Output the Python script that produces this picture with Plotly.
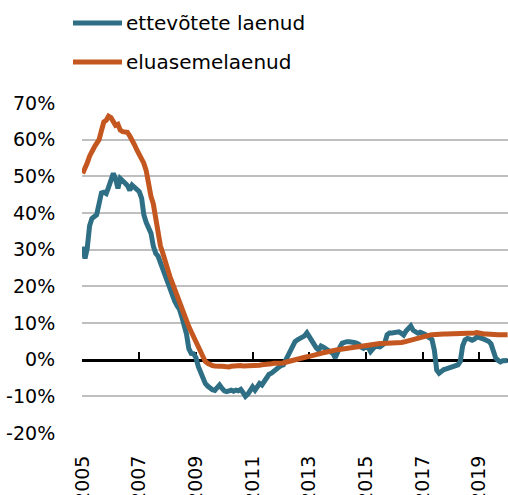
import pandas as pd
import plotly.graph_objects as go

# Monthly observations, Jan 2005 .. Jan 2020 (annual growth, %)
months = pd.date_range("2005-01-01", periods=181, freq="MS")

ettevotete = [
    # 2005
    30.8, 27.6, 30.3, 36.5, 38.5, 39.2, 39.5, 42.5, 45.5, 45.7, 45.3, 47.0,
    # 2006
    49.5, 50.8, 49.4, 46.7, 49.4, 48.5, 48.2, 47.5, 46.2, 47.6, 47.1, 46.3,
    # 2007
    45.8, 44.0, 39.5, 37.4, 36.2, 34.5, 31.0, 29.0, 28.2, 26.5, 24.2, 22.2,
    # 2008
    20.5, 19.2, 17.5, 16.0, 14.8, 13.8, 11.8, 9.2, 7.0, 3.0, 1.7, 1.6,
    # 2009
    0.5, -1.9, -3.5, -5.3, -6.5, -7.2, -7.8, -8.2, -8.4, -7.8, -6.9, -7.8,
    # 2010
    -8.5, -8.7, -8.4, -8.3, -8.6, -8.3, -8.5, -8.1, -9.0, -10.0, -9.4, -8.2,
    # 2011
    -7.4, -8.3, -7.2, -6.5, -6.9, -6.0, -4.8, -4.0, -3.7, -3.2, -2.4, -1.8,
    # 2012
    -1.6, -1.4, -0.2, 1.5, 2.8, 4.1, 4.9, 5.4, 5.8, 6.1, 6.5, 7.3,
    # 2013
    6.2, 4.9, 4.4, 3.2, 2.6, 3.7, 3.4, 3.0, 2.7, 2.2, 1.7, 0.5,
    # 2014
    2.4, 3.5, 4.5, 4.8, 4.9, 4.9, 4.9, 4.7, 4.5, 4.2, 3.4, 3.1,
    # 2015
    3.5, 3.3, 2.2, 3.3, 3.7, 3.6, 3.5, 4.0, 4.6, 6.8, 7.3, 7.3,
    # 2016
    7.3, 7.4, 7.6, 7.2, 6.7, 7.8, 8.5, 9.2, 8.0, 7.6, 7.2, 7.5,
    # 2017
    7.3, 6.9, 6.4, 5.9, 5.5, 2.5, -2.8, -3.7, -3.1, -2.7, -2.5, -2.3,
    # 2018
    -2.0, -1.9, -1.9, -1.4, -0.5, 3.8, 5.4, 5.8, 5.6, 5.3, 5.6, 6.2,
    # 2019
    6.0, 5.9, 5.6, 5.3, 5.0, 4.3, 2.5, 0.4, -0.2, -0.6, -0.3, -0.1,
    # 2020
    -0.2,
]

eluaseme = [
    # 2005
    50.8, 52.0, 53.6, 55.5, 57.0, 58.0, 59.0, 60.0, 62.5, 64.8, 65.3, 66.4,
    # 2006
    66.0, 64.8, 63.9, 64.2, 62.6, 62.2, 62.1, 62.0, 61.0, 60.0, 58.6, 57.2,
    # 2007
    56.0, 54.8, 53.6, 51.5, 47.0, 44.5, 42.5, 38.0, 34.0, 31.0, 29.0, 26.5,
    # 2008
    24.5, 22.6, 21.0, 19.2, 17.0, 15.5, 14.2, 12.3, 10.6, 9.0, 7.6, 6.2,
    # 2009
    4.8, 3.5, 2.1, 0.9, -0.5, -1.0, -1.4, -1.6, -1.7, -1.9, -1.8, -1.8,
    # 2010
    -1.9, -1.9, -2.0, -1.8, -1.7, -1.6, -1.5, -1.6, -1.7, -1.7, -1.8, -1.7,
    # 2011
    -1.6, -1.5, -1.5, -1.5, -1.4, -1.4, -1.3, -1.2, -1.1, -1.0, -1.0, -1.2,
    # 2012
    -1.1, -0.9, -0.7, -0.5, -0.3, -0.2, 0.0, 0.1, 0.3, 0.4, 0.6, 0.8,
    # 2013
    0.9, 1.0, 1.1, 1.3, 1.5, 1.7, 1.9, 2.1, 2.3, 2.4, 2.5, 2.6,
    # 2014
    2.7, 2.8, 2.9, 3.0, 3.2, 3.3, 3.5, 3.6, 3.7, 3.8, 3.9, 4.0,
    # 2015
    4.0, 4.1, 4.2, 4.3, 4.4, 4.4, 4.4, 4.4, 4.4, 4.4, 4.4, 4.4,
    # 2016
    4.4, 4.5, 4.6, 4.7, 4.8, 5.0, 5.2, 5.4, 5.6, 5.8, 6.0, 6.1,
    # 2017
    6.3, 6.4, 6.6, 6.7, 6.8, 6.9, 7.0, 7.0, 7.0, 7.0, 7.0, 7.0,
    # 2018
    7.0, 7.0, 7.0, 7.0, 7.0, 7.1, 7.1, 7.1, 7.2, 7.2, 7.3, 7.4,
    # 2019
    7.2, 7.1, 7.0, 7.0, 6.9, 6.9, 6.8, 6.8, 6.8, 6.8, 6.8, 6.8,
    # 2020
    6.8,
]

series_names = ["ettevõtete laenud", "eluasemelaenud"]
series_colors = ["#2E6F85", "#C4561F"]

x_tick_years = ["2005", "2007", "2009", "2011", "2013", "2015", "2017", "2019"]
x_tick_dates = [y + "-01-01" for y in x_tick_years]

y_tick_vals = [-20, -10, 0, 10, 20, 30, 40, 50, 60, 70]
y_tick_text = ["-20%", "-10%", "0%", "10%", "20%", "30%", "40%", "50%", "60%", "70%"]

y_min, y_max = -20, 70
x_range = ["2004-12-24", "2020-01-06"]

FONT = "DejaVu Sans"
W, H = 508, 495
ML, MR, MT, MB = 82, 0, 103, 62

fig = go.Figure()
for name, vals, col in zip(series_names, [ettevotete, eluaseme], series_colors):
    fig.add_trace(go.Scatter(
        x=months, y=vals, mode="lines", name=name,
        line=dict(color=col, width=5), showlegend=False,
    ))

# dummy trace so the zero-crossing axis is rendered
fig.add_trace(go.Scatter(x=[months[0]], y=[None], xaxis="x2", mode="lines",
                         showlegend=False, hoverinfo="skip"))

fig.update_layout(
    width=W, height=H,
    margin=dict(l=ML, r=MR, t=MT, b=MB, autoexpand=False),
    paper_bgcolor="white", plot_bgcolor="white",
    font=dict(family=FONT, size=19, color="#000000"),
    xaxis=dict(
        type="date", range=x_range, automargin=False,
        tickvals=x_tick_dates, ticktext=x_tick_years,
        tickangle=-90, showgrid=False, showline=False, zeroline=False,
        ticks="outside", ticklen=14, tickcolor="rgba(0,0,0,0)",
        tickfont=dict(family=FONT, size=19, color="#000000"),
    ),
    xaxis2=dict(
        type="date", range=x_range, overlaying="x", anchor="free",
        automargin=False,
        position=(0 - y_min) / (y_max - y_min), side="bottom",
        tickvals=x_tick_dates, showticklabels=False,
        ticks="inside", ticklen=7, tickwidth=2, tickcolor="#000000",
        showline=True, linecolor="#000000", linewidth=3,
        showgrid=False, zeroline=False, layer="below traces",
    ),
    yaxis=dict(
        range=[y_min, y_max], tickvals=y_tick_vals, ticktext=y_tick_text,
        automargin=False,
        showgrid=True, gridcolor="#BFBFBF", gridwidth=1.5,
        zeroline=False, showline=False,
        ticks="outside", ticklen=22, tickcolor="rgba(0,0,0,0)",
        tickfont=dict(family=FONT, size=19, color="#000000"),
    ),
)

# custom legend (line samples + labels) above the plot area
plot_w = W - ML - MR
plot_h = H - MT - MB
def px_to_paper_x(px):
    return (px - ML) / plot_w
def px_to_paper_y(py):
    return (H - MB - py) / plot_h

legend_rows_py = [23, 62]
for name, col, py in zip(series_names, series_colors, legend_rows_py):
    fig.add_shape(type="line", xref="paper", yref="paper",
                  x0=px_to_paper_x(73), x1=px_to_paper_x(122),
                  y0=px_to_paper_y(py), y1=px_to_paper_y(py),
                  line=dict(color=col, width=5))
    fig.add_annotation(text=name, xref="paper", yref="paper",
                       x=px_to_paper_x(124), y=px_to_paper_y(py),
                       xanchor="left", yanchor="middle", showarrow=False,
                       font=dict(family=FONT, size=20, color="#000000"))

fig.write_html(
    "out.html",
    config={"displayModeBar": False},
    post_script="document.body.style.margin='0';document.body.style.overflow='hidden';",
)
